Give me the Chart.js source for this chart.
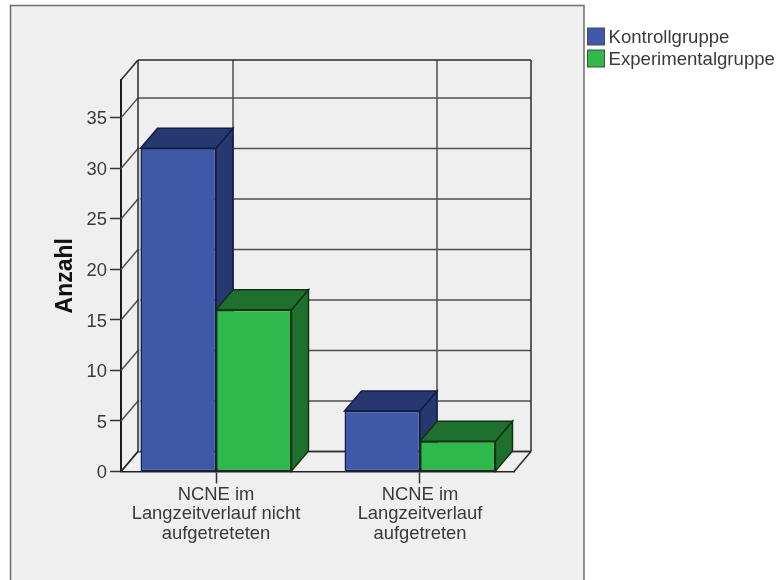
<!DOCTYPE html>
<html>
<head>
<meta charset="utf-8">
<style>
  html, body { margin: 0; padding: 0; background: #ffffff; }
  canvas { display: block; }
</style>
<script src="https://cdn.jsdelivr.net/npm/chart.js@4/dist/chart.umd.min.js"></script>
</head>
<body>
<canvas id="chart" width="784" height="580"></canvas>
<script>
const categories = [
  ['NCNE im', 'Langzeitverlauf nicht', 'aufgetreteten'],
  ['NCNE im', 'Langzeitverlauf', 'aufgetreten']
];
const kontrollgruppe = [32, 6];
const experimentalgruppe = [16, 3];
const seriesNames = ['Kontrollgruppe', 'Experimentalgruppe'];
const yTicks = [0, 5, 10, 15, 20, 25, 30, 35];

// Face colours of the extruded bars
const frontColors = ['#3f58a8', '#2fb84b'];
const shadeColors = ['#25386f', '#1f702e'];
const edgeColors = ['#121c48', '#0d3315'];
const wallLine = '#4f4f4f';
const frameLine = '#2a2a2a';
const textColor = '#3a3a3a';
const fontFamily = '"Liberation Sans", Arial, sans-serif';

// Depth of the pseudo-3D box, in pixels
const DEPTH_X = 17;
const DEPTH_Y = 20;

function polygon(ctx, pts, fill, stroke, width) {
  ctx.beginPath();
  pts.forEach((p, i) => i ? ctx.lineTo(p[0], p[1]) : ctx.moveTo(p[0], p[1]));
  ctx.closePath();
  if (fill) { ctx.fillStyle = fill; ctx.fill(); }
  if (stroke) { ctx.strokeStyle = stroke; ctx.lineWidth = width; ctx.stroke(); }
}

function segment(ctx, x1, y1, x2, y2) {
  ctx.beginPath();
  ctx.moveTo(x1, y1);
  ctx.lineTo(x2, y2);
  ctx.stroke();
}

// Grey panel behind the plot with a thin frame open at the bottom edge
const panelPlugin = {
  id: 'panel',
  beforeDraw(chart) {
    const ctx = chart.ctx;
    ctx.save();
    ctx.fillStyle = '#efefef';
    ctx.fillRect(10, 5, 574, 575);
    ctx.strokeStyle = '#6e6e6e';
    ctx.lineWidth = 1.5;
    ctx.beginPath();
    ctx.moveTo(10.5, 580);
    ctx.lineTo(10.5, 5.5);
    ctx.lineTo(584, 5.5);
    ctx.lineTo(584, 580);
    ctx.stroke();
    ctx.restore();

    // Value labels sit slightly below their tick marks
    chart.scales.y.getLabelItems().forEach(item => { item.options.translation[1] += 1.5; });
  }
};

// Back wall, side wall and floor of the box, then the side and top of every bar
const boxPlugin = {
  id: 'box3d',
  beforeDatasetsDraw(chart) {
    const ctx = chart.ctx;
    const { left, right, top, bottom } = chart.chartArea;
    const xs = chart.scales.x;
    const ys = chart.scales.y;
    ctx.save();
    ctx.strokeStyle = wallLine;
    ctx.lineWidth = 1.5;

    yTicks.forEach(v => {
      const y = ys.getPixelForValue(v);
      segment(ctx, left, y, left + DEPTH_X, y - DEPTH_Y);
      segment(ctx, left + DEPTH_X, y - DEPTH_Y, right + DEPTH_X, y - DEPTH_Y);
    });
    categories.forEach((c, i) => {
      const x = xs.getPixelForValue(i) + DEPTH_X;
      segment(ctx, x, top - DEPTH_Y, x, bottom - DEPTH_Y);
    });
    ctx.strokeStyle = frameLine;
    segment(ctx, left, top, left + DEPTH_X, top - DEPTH_Y);
    segment(ctx, left + DEPTH_X, top - DEPTH_Y, right + DEPTH_X, top - DEPTH_Y);
    segment(ctx, left + DEPTH_X, top - DEPTH_Y, left + DEPTH_X, bottom - DEPTH_Y);
    segment(ctx, right + DEPTH_X, top - DEPTH_Y, right + DEPTH_X, bottom - DEPTH_Y);
    segment(ctx, right + DEPTH_X, bottom - DEPTH_Y, right, bottom);
    segment(ctx, left, bottom, left + DEPTH_X, bottom - DEPTH_Y);
    segment(ctx, left + DEPTH_X, bottom - DEPTH_Y, right + DEPTH_X, bottom - DEPTH_Y);

    // Narrow pale strip between the wall edge and the first bar
    const firstBar = chart.getDatasetMeta(0).data[0];
    ctx.fillStyle = '#cccccc';
    ctx.fillRect(left + DEPTH_X + 1, firstBar.y, firstBar.x - firstBar.width / 2 - left - DEPTH_X - 1,
      bottom - DEPTH_Y - firstBar.y);

    chart.data.datasets.forEach((ds, d) => {
      chart.getDatasetMeta(d).data.forEach(bar => {
        const half = bar.width / 2;
        const l = bar.x - half;
        const r = bar.x + half;
        const t = bar.y;
        const b = bar.base;
        polygon(ctx, [[r, t], [r + DEPTH_X, t - DEPTH_Y], [r + DEPTH_X, b - DEPTH_Y], [r, b]],
          shadeColors[d], edgeColors[d], 1.5);
        polygon(ctx, [[l, t], [l + DEPTH_X, t - DEPTH_Y], [r + DEPTH_X, t - DEPTH_Y], [r, t]],
          shadeColors[d], edgeColors[d], 1.5);
      });
    });
    ctx.restore();
  },
  afterDraw(chart) {
    // Legend swatches and names at the top right
    const ctx = chart.ctx;
    ctx.save();
    ctx.font = '18.6px ' + fontFamily;
    ctx.textBaseline = 'middle';
    ctx.textAlign = 'left';
    seriesNames.forEach((name, i) => {
      const y = 28 + i * 22;
      ctx.fillStyle = frontColors[i];
      ctx.fillRect(587.5, y, 17, 17);
      ctx.strokeStyle = '#4a4a4a';
      ctx.lineWidth = 1;
      ctx.strokeRect(587.5, y, 17, 17);
      ctx.fillStyle = textColor;
      ctx.fillText(name, 608.5, y + 10);
    });
    ctx.restore();
  }
};

function barData(values) {
  return values.map((v, i) => ({ x: i, y: v }));
}

new Chart(document.getElementById('chart'), {
  type: 'bar',
  data: {
    datasets: [kontrollgruppe, experimentalgruppe].map((values, i) => ({
      label: seriesNames[i],
      data: barData(values),
      backgroundColor: frontColors[i],
      borderColor: edgeColors[i],
      borderWidth: 1.5,
      borderSkipped: false,
      barPercentage: 1,
      categoryPercentage: 0.74
    }))
  },
  options: {
    responsive: false,
    animation: false,
    layout: { autoPadding: false, padding: { top: 80, right: 270, left: 0, bottom: 0 } },
    plugins: { legend: { display: false }, tooltip: { enabled: false } },
    scales: {
      x: {
        type: 'linear',
        offset: false,
        min: -0.4657,
        max: 1.4608,
        afterBuildTicks(scale) {
          scale.ticks = categories.map((c, i) => ({ value: i }));
        },
        afterFit(scale) { scale.height = 108.5; },
        grid: { offset: false, drawOnChartArea: false, tickLength: 12, tickColor: '#333333', tickWidth: 1.5 },
        border: { display: true, color: '#222222', width: 1.5 },
        ticks: {
          autoSkip: false,
          minRotation: 0,
          maxRotation: 0,
          padding: 1.5,
          color: textColor,
          font: { family: fontFamily, size: 18.4, lineHeight: 1.06 },
          callback: v => categories[v]
        }
      },
      y: {
        min: 0,
        max: 38.75,
        afterBuildTicks(scale) {
          scale.ticks = yTicks.map(v => ({ value: v }));
        },
        afterFit(scale) { scale.width = 121; },
        grid: { drawOnChartArea: false, tickLength: 11, tickColor: '#333333', tickWidth: 1.5 },
        border: { display: true, color: '#1c1c1c', width: 2 },
        ticks: {
          padding: 3,
          color: textColor,
          font: { family: fontFamily, size: 18.4 }
        },
        title: {
          display: true,
          text: 'Anzahl',
          color: '#111111',
          padding: { top: 54, bottom: 0 },
          font: { family: fontFamily, size: 23, weight: 'bold', lineHeight: 1 }
        }
      }
    }
  },
  plugins: [panelPlugin, boxPlugin]
});
</script>
</body>
</html>
